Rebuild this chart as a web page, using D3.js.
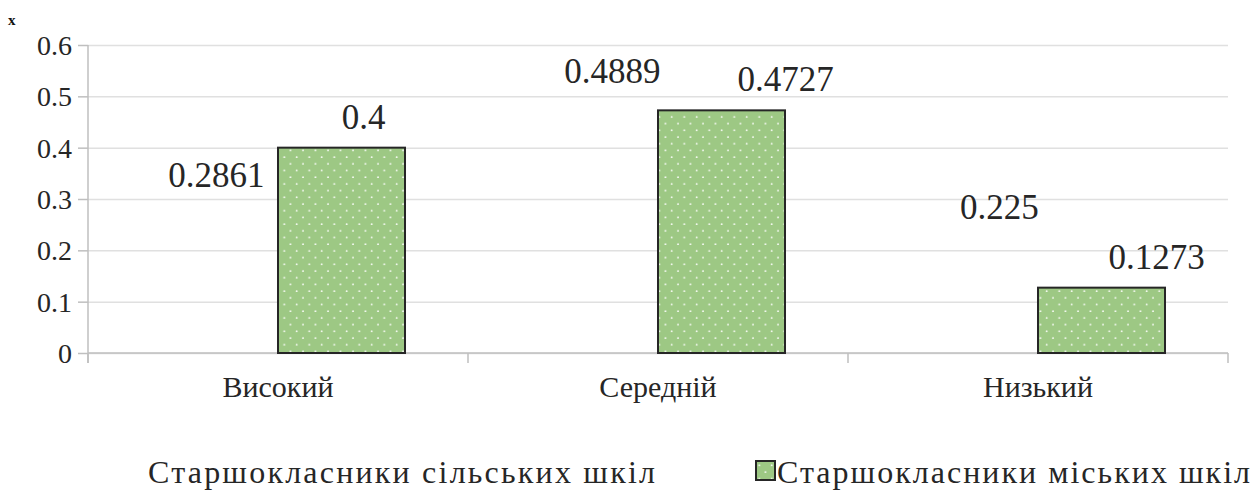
<!DOCTYPE html>
<html>
<head>
<meta charset="utf-8">
<script src="https://cdn.jsdelivr.net/npm/d3@7"></script>
<style>
  body { margin: 0; background: #fff; }
  svg text { font-family: 'Liberation Serif', 'Times New Roman', Tinos, 'DejaVu Serif', serif !important; fill: #262626; }
</style>
</head>
<body>
<svg id="chart" width="1254" height="491"></svg>
<script>
const categories = ["Високий", "Середній", "Низький"];
const seriesNames = ["Старшокласники сільських шкіл", "Старшокласники міських шкіл"];
const ruralValues = [0.2861, 0.4889, 0.225];
const urbanValues = [0.4, 0.4727, 0.1273];
const yTicks = [0, 0.1, 0.2, 0.3, 0.4, 0.5, 0.6];

// manual label nudges (labels were dragged around in the original)
const labelShift = [[2, 18, 25], [22, 64, 55]];

const plotLeft = 88, plotRight = 1228, plotTop = 45, plotBottom = 353;
const FONT = "'Liberation Serif', 'Times New Roman', Tinos, 'DejaVu Serif', serif";

const svg = d3.select("#chart").attr("font-family", FONT);

// dotted green fill
const defs = svg.append("defs");
const pat = defs.append("pattern")
  .attr("id", "dots")
  .attr("patternUnits", "userSpaceOnUse")
  .attr("width", 12.5)
  .attr("height", 13.4);
pat.append("rect").attr("width", 12.5).attr("height", 13.4).attr("fill", "#9dc884");
pat.append("circle").attr("cx", 3).attr("cy", 3).attr("r", 0.9).attr("fill", "#fff");
pat.append("circle").attr("cx", 9.25).attr("cy", 9.7).attr("r", 0.9).attr("fill", "#fff");

const x = d3.scaleBand().domain(categories).range([plotLeft, plotRight]).padding(0);
const xs = d3.scaleBand().domain(seriesNames).range([0, x.bandwidth()])
  .paddingInner(0).paddingOuter(0.496);
const y = d3.scaleLinear().domain([0, 0.6]).range([plotBottom, plotTop]);

// gridlines
svg.append("g")
  .attr("transform", `translate(${plotLeft},0)`)
  .call(d3.axisLeft(y).tickValues(yTicks).tickSize(-(plotRight - plotLeft)).tickFormat(""))
  .call(g => g.select(".domain").remove())
  .call(g => g.selectAll("line").attr("stroke", "#e0e0e0").attr("stroke-width", 1.5));

// y axis
const yAxis = svg.append("g")
  .attr("transform", `translate(${plotLeft},0)`)
  .call(d3.axisLeft(y).tickValues(yTicks).tickSize(10).tickPadding(6)
    .tickFormat(d => d === 0 ? "0" : d3.format(".1f")(d)));
yAxis.attr("font-family", FONT);
yAxis.select(".domain").attr("stroke", "#bfbfbf").attr("stroke-width", 1.5)
  .attr("d", `M0,${plotTop}V${plotBottom + 10}`);
yAxis.selectAll("line").attr("stroke", "#bfbfbf").attr("stroke-width", 1.5);
yAxis.selectAll("text").style("font-size", "28px").attr("dy", "0.34em");

// x axis
const xAxis = svg.append("g").attr("transform", `translate(0,${plotBottom})`);
xAxis.append("line").attr("x1", plotLeft).attr("x2", plotRight)
  .attr("stroke", "#bfbfbf").attr("stroke-width", 1.5);
xAxis.selectAll("line.tk")
  .data(categories.concat([null]))
  .join("line")
  .attr("class", "tk")
  .attr("x1", (d, i) => plotLeft + i * x.bandwidth())
  .attr("x2", (d, i) => plotLeft + i * x.bandwidth())
  .attr("y1", 0).attr("y2", 10)
  .attr("stroke", "#bfbfbf").attr("stroke-width", 1.5);
xAxis.selectAll("text")
  .data(categories)
  .join("text")
  .attr("x", d => x(d) + x.bandwidth() / 2)
  .attr("y", 44)
  .attr("text-anchor", "middle")
  .style("font-size", "30px")
  .text(d => d);

// bars
const series = [ruralValues, urbanValues];
series.forEach((vals, si) => {
  const name = seriesNames[si];
  svg.append("g")
    .selectAll("rect")
    .data(vals)
    .join("rect")
    .attr("x", (d, i) => x(categories[i]) + xs(name))
    .attr("y", d => y(d))
    .attr("width", xs.bandwidth())
    .attr("height", d => y(0) - y(d))
    .attr("fill", si === 0 ? "#fff" : "url(#dots)")
    .attr("fill-opacity", si === 0 ? 0 : 1)
    .attr("stroke", si === 0 ? "none" : "#262626")
    .attr("stroke-width", 2);

  svg.append("g")
    .selectAll("text")
    .data(vals)
    .join("text")
    .attr("x", (d, i) => x(categories[i]) + xs(name) + xs.bandwidth() / 2 + labelShift[si][i])
    .attr("y", d => y(d) - 19)
    .attr("text-anchor", "middle")
    .style("font-size", "35px")
    .text(d => d);
});

// stray mark in the corner
svg.append("text").attr("x", 8).attr("y", 25)
  .style("font-size", "15px").style("font-weight", "bold").style("fill", "#111")
  .text("x");

// legend
const legend = svg.append("g");
legend.append("text").attr("x", 148).attr("y", 483)
  .attr("textLength", 507).attr("lengthAdjust", "spacing")
  .style("font-size", "32px").text(seriesNames[0]);
legend.append("rect").attr("x", 756).attr("y", 461).attr("width", 19).attr("height", 19)
  .attr("fill", "url(#dots)").attr("stroke", "#262626").attr("stroke-width", 2);
legend.append("text").attr("x", 777).attr("y", 483)
  .attr("textLength", 473).attr("lengthAdjust", "spacing")
  .style("font-size", "32px").text(seriesNames[1]);
</script>
</body>
</html>
